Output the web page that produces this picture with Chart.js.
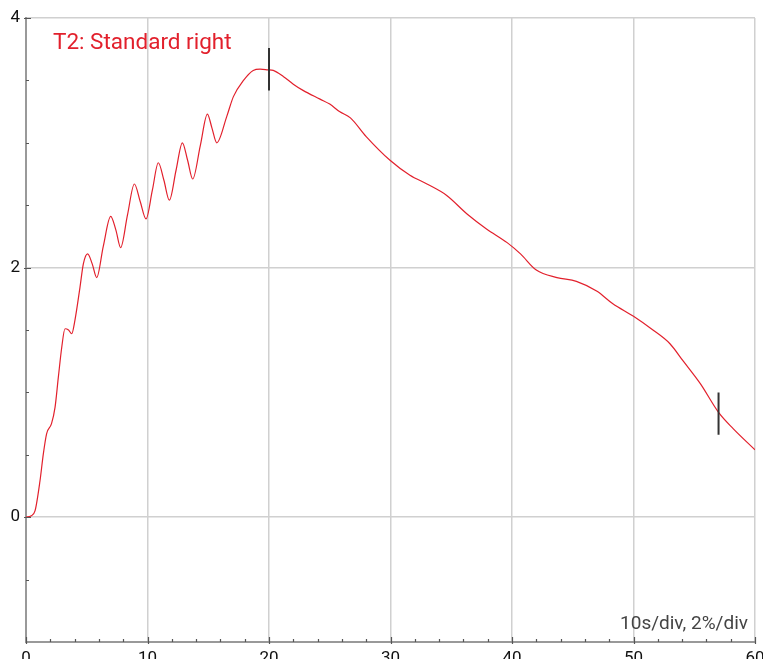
<!DOCTYPE html>
<html>
<head>
<meta charset="utf-8">
<script src="https://cdn.jsdelivr.net/npm/chart.js@4/dist/chart.umd.min.js"></script>
<style>
  html, body { margin: 0; padding: 0; background: #fff; }
  #wrap { width: 763px; height: 659px; position: relative; }
</style>
</head>
<body>
<div id="wrap"><canvas id="chart"></canvas></div>
<script>
// time in seconds, value in %
const times = [0, 0.4, 0.74, 1.15, 1.43, 1.7, 2.1, 2.39, 2.66, 2.94, 3.21, 3.5, 3.76, 4.03, 4.44, 4.72,
  5.07, 5.45, 5.82, 6.36, 6.97, 7.4, 7.79, 8.35, 8.92, 9.4, 9.88, 10.4, 10.89, 11.35, 11.8, 12.35,
  12.87, 13.3, 13.72, 14.35, 14.93, 15.3, 15.7, 16.52, 17.07, 17.9, 18.7, 19.26, 19.9, 20.35, 21.2,
  22.0, 22.8, 24.2, 25.0, 25.8, 26.7, 28.0, 29.96, 31.6, 33.0, 34.6, 36.3, 37.9, 39.6, 40.7, 42.0,
  43.7, 45.3, 47.0, 48.3, 50.0, 51.6, 53.0, 54.1, 55.5, 57.0, 58.2, 60];
const values = [0, 0.01, 0.05, 0.29, 0.51, 0.67, 0.75, 0.88, 1.12, 1.36, 1.51, 1.5, 1.47, 1.58, 1.84, 2.03,
  2.11, 2.03, 1.92, 2.17, 2.41, 2.3, 2.16, 2.42, 2.67, 2.53, 2.39, 2.62, 2.84, 2.7, 2.54, 2.78,
  3.0, 2.86, 2.71, 2.98, 3.23, 3.12, 3.0, 3.21, 3.37, 3.5, 3.58, 3.59, 3.585, 3.58, 3.53,
  3.47, 3.42, 3.35, 3.31, 3.25, 3.2, 3.05, 2.86, 2.74, 2.67, 2.58, 2.43, 2.31, 2.2, 2.11, 1.98,
  1.92, 1.89, 1.81, 1.71, 1.61, 1.5, 1.39, 1.25, 1.07, 0.84, 0.71, 0.54];

const xTicks = [0, 10, 20, 30, 40, 50, 60];
const yTicks = [0, 2, 4];
const xMinor = [2, 4, 6, 8, 12, 14, 16, 18, 22, 24, 26, 28, 32, 34, 36, 38, 42, 44, 46, 48, 52, 54, 56, 58];
const yMinor = [-0.5, 0.5, 1, 1.5, 2.5, 3, 3.5];

// cursor markers: time, low and high value
const cursorTimes = [20, 57];
const cursorLow = [3.42, 0.66];
const cursorHigh = [3.76, 1.0];

const seriesName = "T2: Standard right";
const scaleNote = "10s/div, 2%/div";

const RED = "rgb(226, 32, 44)";
const FONT = "Roboto";

const decorPlugin = {
  id: "decor",
  afterDraw(chart) {
    const { ctx, chartArea, scales } = chart;
    const x = scales.x, y = scales.y;
    ctx.save();
    // inward tick marks
    ctx.strokeStyle = "#555";
    ctx.lineWidth = 1.2;
    ctx.beginPath();
    yMinor.forEach(v => {
      const py = Math.round(y.getPixelForValue(v)) + 0.5;
      ctx.moveTo(chartArea.left, py);
      ctx.lineTo(chartArea.left + 3, py);
    });
    yTicks.forEach(v => {
      const py = Math.round(y.getPixelForValue(v)) + 0.5;
      ctx.moveTo(chartArea.left - 2, py);
      ctx.lineTo(chartArea.left + 5, py);
    });
    xMinor.forEach(v => {
      const px = Math.round(x.getPixelForValue(v)) + 0.5;
      ctx.moveTo(px, chartArea.bottom);
      ctx.lineTo(px, chartArea.bottom - 3);
    });
    xTicks.forEach(v => {
      const px = Math.round(x.getPixelForValue(v)) + 0.5;
      ctx.moveTo(px, chartArea.bottom + 2);
      ctx.lineTo(px, chartArea.bottom - 5);
    });
    ctx.stroke();

    // cursors
    ctx.strokeStyle = "#333";
    ctx.lineWidth = 2;
    ctx.beginPath();
    cursorTimes.forEach((t, i) => {
      const px = x.getPixelForValue(t);
      ctx.moveTo(px, y.getPixelForValue(cursorHigh[i]));
      ctx.lineTo(px, y.getPixelForValue(cursorLow[i]));
    });
    ctx.stroke();

    // series name
    ctx.fillStyle = RED;
    ctx.font = "22.5px " + FONT;
    ctx.textAlign = "left";
    ctx.textBaseline = "alphabetic";
    ctx.fillText(seriesName, chartArea.left + 27, chartArea.top + 31);

    // scale note
    ctx.fillStyle = "#444";
    ctx.font = "19px " + FONT;
    ctx.textAlign = "right";
    ctx.fillText(scaleNote, chartArea.right - 7, chartArea.bottom - 13);
    ctx.restore();
  }
};

new Chart(document.getElementById("chart"), {
  type: "line",
  data: {
    datasets: [{
      label: seriesName,
      data: times.map((t, i) => ({ x: t, y: values[i] })),
      borderColor: RED,
      borderWidth: 1.2,
      pointRadius: 0,
      fill: false,
      cubicInterpolationMode: "monotone"
    }]
  },
  options: {
    responsive: true,
    maintainAspectRatio: false,
    animation: false,
    layout: { autoPadding: false, padding: { top: 18, right: 8, left: 0, bottom: 0 } },
    plugins: {
      legend: { display: false },
      tooltip: { enabled: false }
    },
    scales: {
      x: {
        type: "linear",
        min: 0,
        max: 60,
        afterBuildTicks: scale => { scale.ticks = xTicks.map(v => ({ value: v })); },
        afterFit: scale => {
          scale.height = 17;
          scale.paddingLeft = 0;
          scale.paddingRight = 0;
        },
        grid: { color: "#d0d0d0", lineWidth: 1.5, drawTicks: false },
        border: { color: "#999", width: 2 },
        ticks: {
          color: "#111",
          font: { family: FONT, size: 17 },
          padding: 7,
          maxRotation: 0
        }
      },
      y: {
        type: "linear",
        min: -1,
        max: 4,
        afterBuildTicks: scale => { scale.ticks = yTicks.map(v => ({ value: v })); },
        afterFit: scale => {
          scale.width = 26;
          scale.paddingTop = 0;
          scale.paddingBottom = 0;
        },
        grid: { color: "#d0d0d0", lineWidth: 1.5, drawTicks: false },
        border: { color: "#999", width: 2 },
        ticks: {
          color: "#111",
          font: { family: FONT, size: 17 },
          padding: 6
        }
      }
    }
  },
  plugins: [decorPlugin]
});
</script>
</body>
</html>
